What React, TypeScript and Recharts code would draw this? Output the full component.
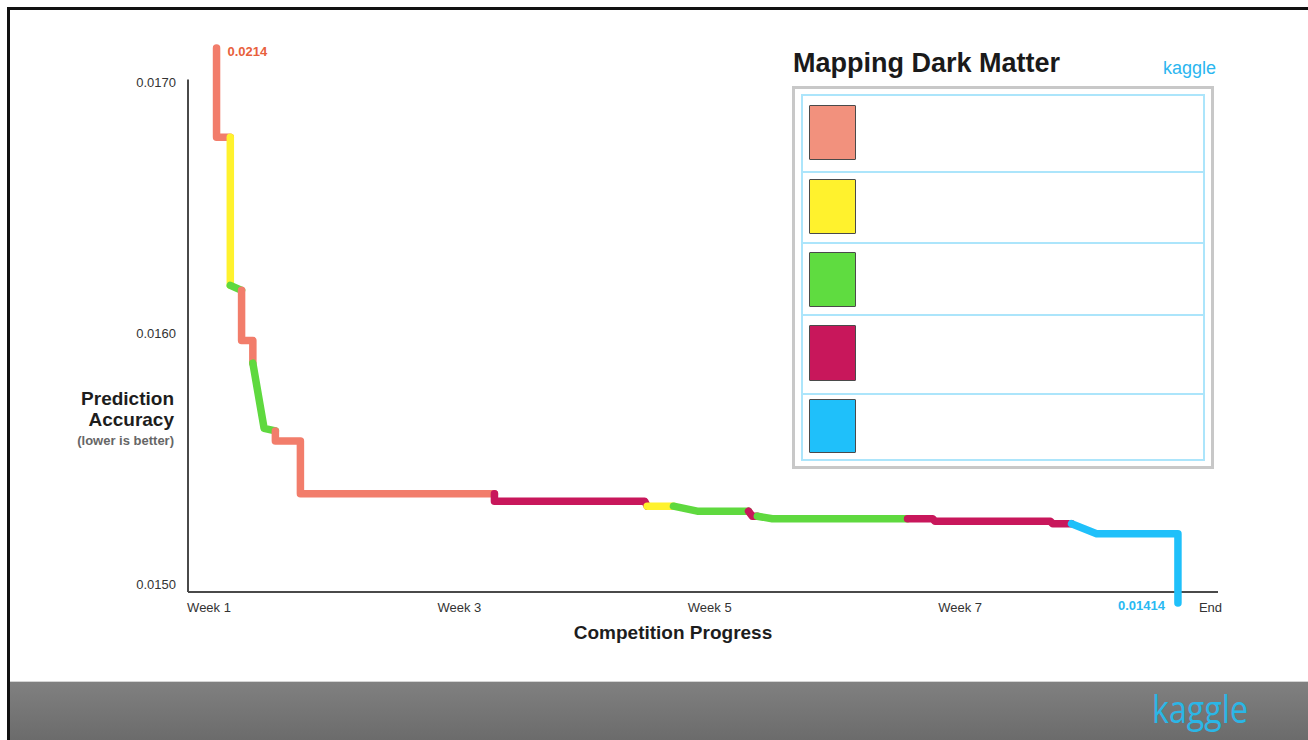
import React from 'react';
import { LineChart, Line, XAxis, YAxis, ReferenceLine, LabelList } from 'recharts';

// leaderboard teams, in legend order
const TEAM_COLORS = ['#f27d6b', '#fff22d', '#5fd93f', '#c8175b', '#1fc0fa'];
const SWATCH_COLORS = ['#f2917d', '#fff22d', '#5fdc40', '#c8175b', '#1fc0fa'];

// which team held first place, run by run
const RUN_TEAM = [0, 1, 2, 0, 2, 0, 3, 1, 2, 3, 2, 3, 4];

// week of each step in a run
const RUN_WEEKS = [
  [1.06, 1.06, 1.17],
  [1.17, 1.17],
  [1.17, 1.26],
  [1.26, 1.26, 1.35, 1.35],
  [1.35, 1.44, 1.53],
  [1.53, 1.53, 1.73, 1.73, 3.28],
  [3.28, 3.28, 4.48, 4.5],
  [4.5, 4.71],
  [4.71, 4.9, 5.31],
  [5.31, 5.34, 5.38],
  [5.38, 5.5, 6.58],
  [6.58, 6.78, 6.8, 7.72, 7.74, 7.89],
  [7.89, 8.09, 8.74, 8.74],
];

// best public score at each step
const RUN_SCORES = [
  [0.0214, 0.01678, 0.01678],
  [0.01678, 0.01619],
  [0.01619, 0.01617],
  [0.01617, 0.01597, 0.01597, 0.01588],
  [0.01588, 0.01562, 0.01561],
  [0.01561, 0.01557, 0.01557, 0.01536, 0.01536],
  [0.01536, 0.01533, 0.01533, 0.01531],
  [0.01531, 0.01531],
  [0.01531, 0.01529, 0.01529],
  [0.01529, 0.01527, 0.01527],
  [0.01527, 0.01526, 0.01526],
  [0.01526, 0.01526, 0.01525, 0.01525, 0.01524, 0.01524],
  [0.01524, 0.0152, 0.0152, 0.01414],
];

const X_TICKS = [1, 3, 5, 7, 9];
const X_TICK_LABELS = ['Week 1', 'Week 3', 'Week 5', 'Week 7', 'End'];
const Y_TICKS = [0.015, 0.016, 0.017];

const X_DOMAIN = [0.832, 9.06];
const Y_DOMAIN = [0.01414, 0.0214];
const AXIS_FLOOR = 0.014968;
const AXIS_CEIL = 0.01701;

// broken value axis: the opening and final scores sit far off the main range,
// so everything outside [BREAK_LO, BREAK_HI] is squeezed into a thin band
const BREAK_LO = 0.014968;
const BREAK_HI = 0.01712;
const SQUEEZE_LO = 0.0529;
const SQUEEZE_HI = 0.0037;

function warp(v: number) {
  if (v < BREAK_LO) return BREAK_LO - (BREAK_LO - v) * SQUEEZE_LO;
  if (v > BREAK_HI) return BREAK_HI + (v - BREAK_HI) * SQUEEZE_HI;
  return v;
}

function brokenScale(): any {
  let dom: number[] = [0, 1];
  let rng: number[] = [0, 1];
  const scale: any = (v: number) => {
    const a = warp(dom[0]);
    const b = warp(dom[dom.length - 1]);
    return rng[0] + ((warp(v) - a) / (b - a)) * (rng[rng.length - 1] - rng[0]);
  };
  scale.domain = (d?: number[]) => {
    if (!d) return dom.slice();
    dom = d.slice();
    return scale;
  };
  scale.range = (r?: number[]) => {
    if (!r) return rng.slice();
    rng = r.slice();
    return scale;
  };
  scale.copy = () => brokenScale().domain(dom).range(rng);
  scale.ticks = () => Y_TICKS;
  return scale;
}

const yScale = brokenScale();

const runs = RUN_WEEKS.map((weeks, i) => weeks.map((week, j) => ({ week, score: RUN_SCORES[i][j] })));

const FONT = '"Liberation Sans", Arial, sans-serif';

// legend row boxes and swatch offsets (px)
const ROW_TOPS = [94, 171, 242, 314, 393, 459];
const SWATCH_TOPS = [105, 179, 252, 325, 399];
const SWATCH_HEIGHTS = [55, 55, 55, 56, 54];

function StartLabel(props: any) {
  const { x, y, value, index } = props;
  if (index !== 0) return null;
  return (
    <text x={x + 11} y={y + 8} fill="#e8603c" fontSize={13} fontWeight={700} fontFamily={FONT}>
      {String(value)}
    </text>
  );
}

function EndLabel(props: any) {
  const { x, y, value, index } = props;
  if (index !== RUN_WEEKS[RUN_WEEKS.length - 1].length - 1) return null;
  return (
    <text x={x - 13} y={y + 7} fill="#29b9f2" fontSize={13} fontWeight={700} fontFamily={FONT} textAnchor="end">
      {String(value)}
    </text>
  );
}

export default function App() {
  return (
    <div style={{ position: 'absolute', left: 0, top: 0, width: 1308, height: 740, background: '#fff', overflow: 'hidden', fontFamily: FONT }}>
      {/* slide frame */}
      <div style={{ position: 'absolute', left: 7, top: 7, width: 1301, height: 733, borderTop: '3px solid #111', borderLeft: '3px solid #111', boxSizing: 'border-box' }} />

      {/* footer band */}
      <div style={{ position: 'absolute', left: 10, top: 681, width: 1298, height: 59, borderTop: '1px solid #d4d4d4', background: 'linear-gradient(#808080, #6b6b6b)' }} />
      <svg style={{ position: 'absolute', left: 1150, top: 680, width: 110, height: 60, overflow: 'visible' }}>
        <text x={2} y={43} fill="#2bb6e6" fontSize={38} fontFamily='"Open Sans", sans-serif' textLength={96} lengthAdjust="spacingAndGlyphs">
          kaggle
        </text>
      </svg>

      <div style={{ position: 'absolute', left: 0, top: 0 }}>
        <LineChart width={1308} height={740} margin={{ top: 48, right: 90, bottom: 107, left: 128 }}>
          <XAxis
            dataKey="week"
            type="number"
            domain={X_DOMAIN}
            ticks={X_TICKS}
            tickFormatter={(v: number) => X_TICK_LABELS[X_TICKS.indexOf(v)]}
            axisLine={false}
            tickLine={false}
            tickSize={0}
            tickMargin={0}
            height={30}
            tick={{ fontSize: 13, fill: '#333', fontFamily: FONT }}
          />
          <YAxis
            type="number"
            domain={Y_DOMAIN}
            scale={yScale}
            ticks={Y_TICKS}
            tickFormatter={(v: number) => v.toFixed(4)}
            axisLine={false}
            tickLine={false}
            tickSize={0}
            tickMargin={12}
            width={60}
            tick={{ fontSize: 13, fill: '#333', fontFamily: FONT }}
          />
          <ReferenceLine y={AXIS_FLOOR} stroke="#4a4a4a" strokeWidth={2} ifOverflow="visible" />
          <ReferenceLine
            segment={[{ x: X_DOMAIN[0], y: AXIS_FLOOR }, { x: X_DOMAIN[0], y: AXIS_CEIL }]}
            stroke="#4a4a4a"
            strokeWidth={2}
            ifOverflow="visible"
          />
          {runs.map((run, i) => (
            <Line
              key={i}
              data={run}
              dataKey="score"
              type="linear"
              stroke={TEAM_COLORS[RUN_TEAM[i]]}
              strokeWidth={7.5}
              strokeLinecap="round"
              strokeLinejoin="round"
              dot={false}
              activeDot={false}
              isAnimationActive={false}
            >
              {i === 0 && <LabelList dataKey="score" content={StartLabel} />}
              {i === runs.length - 1 && <LabelList dataKey="score" content={EndLabel} />}
            </Line>
          ))}
        </LineChart>
      </div>

      {/* axis titles */}
      <div style={{ position: 'absolute', right: 1308 - 174, top: 388, textAlign: 'right', color: '#1d1d1d', fontWeight: 700, fontSize: 19, lineHeight: '21px' }}>
        Prediction
        <br />
        Accuracy
      </div>
      <div style={{ position: 'absolute', right: 1308 - 174, top: 433, textAlign: 'right', color: '#666', fontWeight: 700, fontSize: 13, lineHeight: '16px' }}>
        (lower is better)
      </div>
      <div style={{ position: 'absolute', left: 473, width: 400, top: 622, textAlign: 'center', color: '#1d1d1d', fontWeight: 700, fontSize: 19, lineHeight: '22px' }}>
        Competition Progress
      </div>

      {/* legend panel */}
      <div style={{ position: 'absolute', left: 793, top: 47, color: '#1a1a1a', fontWeight: 700, fontSize: 27, lineHeight: '33px' }}>
        Mapping Dark Matter
      </div>
      <div style={{ position: 'absolute', left: 1163, top: 57, color: '#2bb6ef', fontSize: 18, lineHeight: '22px' }}>kaggle</div>
      <div style={{ position: 'absolute', left: 792, top: 86, width: 422, height: 383, border: '3px solid #c8c8c8', boxSizing: 'border-box' }} />
      {SWATCH_COLORS.map((c, i) => (
        <React.Fragment key={i}>
          <div
            style={{
              position: 'absolute',
              left: 801,
              top: ROW_TOPS[i],
              width: 404,
              height: ROW_TOPS[i + 1] - ROW_TOPS[i] + 2,
              border: '2px solid #ace5fb',
              boxSizing: 'border-box',
            }}
          />
          <div
            style={{
              position: 'absolute',
              left: 809,
              top: SWATCH_TOPS[i],
              width: 47,
              height: SWATCH_HEIGHTS[i],
              background: c,
              border: '1.5px solid #4a4a4a',
              boxSizing: 'border-box',
              borderRadius: 1,
            }}
          />
        </React.Fragment>
      ))}
    </div>
  );
}
